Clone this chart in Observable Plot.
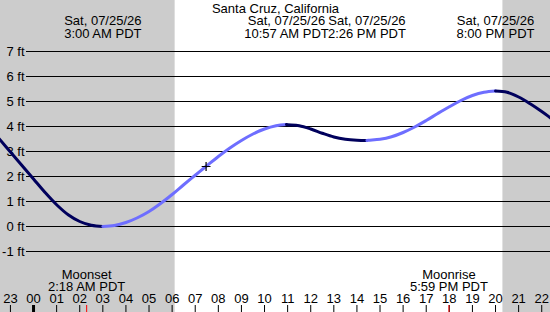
<!DOCTYPE html>
<html>
<head>
<meta charset="utf-8">
<script src="https://cdn.jsdelivr.net/npm/d3@7"></script>
<script src="https://cdn.jsdelivr.net/npm/@observablehq/plot@0.6"></script>
<style>
  html, body { margin: 0; padding: 0; background: #fff; }
  #chart svg { display: block; }
</style>
</head>
<body>
<div id="chart"></div>
<script>
// ---- Data (hours relative to midnight Sat 07/25/26; negative = Friday evening) ----
const title = "Santa Cruz, California";

const sampleHours = [-1.5,-1,-0.5,0,0.5,1,1.5,2,2.5,3.5,4,4.5,5,5.5,6,6.5,7,7.5,8,8.5,9,9.5,10,10.5,11,11.5,12,12.5,13,13.5,14,14.5,15,15.5,16,16.5,17,17.5,18,18.5,19,19.5,20.5,21,21.5,22,22.5];
const sampleFeet  = [3.52,2.98,2.44,1.90,1.36,0.87,0.47,0.20,0.05,0.04,0.16,0.35,0.60,0.92,1.28,1.67,2.05,2.43,2.80,3.14,3.44,3.70,3.90,4.03,4.07,4.03,3.90,3.73,3.58,3.49,3.45,3.45,3.49,3.59,3.76,3.98,4.24,4.52,4.79,5.04,5.24,5.37,5.37,5.18,4.91,4.60,4.26];

const extremeHours  = [3.0, 10.95, 14.4333, 20.0];
const extremeFeet   = [0.0, 4.08, 3.44, 5.42];
const extremeLabels = ["Sat, 07/25/26\n3:00 AM PDT", "Sat, 07/25/26\n10:57 AM PDT", "Sat, 07/25/26\n2:26 PM PDT", "Sat, 07/25/26\n8:00 PM PDT"];

const moonHours  = [2.3, 17.983];
const moonLabels = ["Moonset\n2:18 AM PDT", "Moonrise\n5:59 PM PDT"];

const nightStart = [-1.43, 20.32];
const nightEnd   = [6.13, 22.38];

const nowHour = 7.47;
const nowFeet = 2.40;

const yTicks = [-1, 0, 1, 2, 3, 4, 5, 6, 7];
const hourTicks = d3.range(-1, 23);
const hourLabels = hourTicks.map(h => String((h + 24) % 24).padStart(2, "0"));

const xDomain = [-1.43, 22.38];
const yDomain = [-3.44, 9.04];

// ---- Build segmented tide curve (falling = dark, rising = light) ----
const pts = sampleHours.map((h, i) => ({h, f: sampleFeet[i], ext: false}))
  .concat(extremeHours.map((h, i) => ({h, f: extremeFeet[i], ext: true})))
  .sort((a, b) => a.h - b.h);
const segs = [[]];
for (const p of pts) {
  segs[segs.length - 1].push(p);
  if (p.ext) segs.push([p]);
}
const rows = [];
segs.forEach((s, k) => {
  const falling = s[s.length - 1].f < s[0].f;
  for (const p of s) rows.push({h: p.h, f: p.f, seg: k, falling});
});

const thinPlus = {
  draw(context, size) {
    const r = Math.sqrt(size) / 2;
    context.moveTo(-r, 0); context.lineTo(r, 0);
    context.moveTo(0, -r); context.lineTo(0, r);
  }
};

const font = "Liberation Sans, Arial, sans-serif";
const nights = nightStart.map((s, i) => ({s, e: nightEnd[i]}));

const chart = Plot.plot({
  width: 550,
  height: 312,
  marginTop: 0, marginBottom: 0, marginLeft: 0, marginRight: 0,
  x: {domain: xDomain, axis: null},
  y: {domain: yDomain, axis: null},
  style: {fontFamily: font, fontSize: "13px", background: "white", overflow: "visible"},
  marks: [
    Plot.rect(nights, {x1: "s", x2: "e", fill: "#cccccc"}),
    Plot.ruleY(yTicks, {stroke: "black", strokeWidth: 1, insetLeft: 26}),
    Plot.text(yTicks, {y: d => d, text: d => `${d} ft`, frameAnchor: "left", dx: 24, textAnchor: "end", fontSize: 13, fill: "black"}),
    Plot.line(rows, {x: "h", y: "f", z: "seg", stroke: d => d.falling ? "#00005c" : "#6e6eff", strokeWidth: 3, curve: "catmull-rom"}),
    Plot.dot([0], {x: () => nowHour, y: () => nowFeet, symbol: thinPlus, r: 5, stroke: "black", strokeWidth: 1.2, fill: "none"}),
    Plot.text([title], {text: d => d, frameAnchor: "top", dy: 3, lineAnchor: "top", fontSize: 13, fill: "black"}),
    Plot.text(extremeLabels, {x: (d, i) => extremeHours[i], text: d => d, frameAnchor: "top", dy: 15, lineAnchor: "top", fontSize: 13, lineHeight: 1, fill: "black"}),
    Plot.text(moonLabels, {x: (d, i) => moonHours[i], text: d => d, frameAnchor: "bottom", dy: -22, lineAnchor: "bottom", fontSize: 13, lineHeight: 0.9, fill: "black"}),
    Plot.text(hourLabels, {x: (d, i) => hourTicks[i], text: d => d, frameAnchor: "bottom", dy: -10, lineAnchor: "bottom", fontSize: 13, fill: "black"}),
    Plot.ruleX(hourTicks.filter(h => h !== 0), {insetTop: 305, stroke: "black", strokeWidth: 1}),
    Plot.ruleX([0], {insetTop: 305, stroke: "black", strokeWidth: 3}),
    Plot.ruleX(moonHours, {insetTop: 305, stroke: "#ff0000", strokeWidth: 1})
  ]
});
document.getElementById("chart").append(chart);
</script>
</body>
</html>
